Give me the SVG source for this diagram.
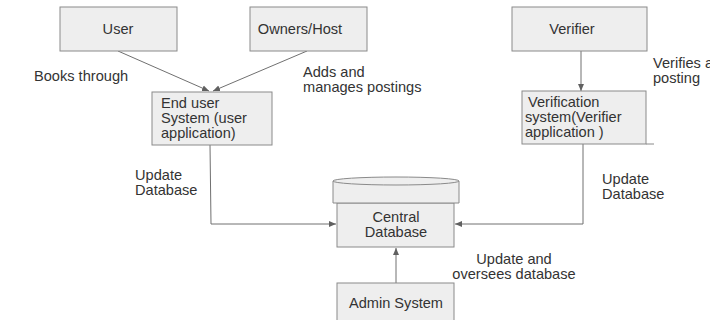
<svg xmlns="http://www.w3.org/2000/svg" width="710" height="320" viewBox="0 0 710 320">
<style>
.box{fill:#eeeeee;stroke:#8a8a8a;stroke-width:1}
.t{font-family:"Liberation Sans",Arial,sans-serif;font-size:14.6px;fill:#333333}
.c{text-anchor:middle}
.ln{fill:none;stroke:#707070;stroke-width:1}
</style>
<defs>
<marker id="ah" markerWidth="8" markerHeight="8" refX="7" refY="4" orient="auto" markerUnits="userSpaceOnUse">
<path d="M0,1 L7,4 L0,7 Z" fill="#606060"/>
</marker>
</defs>
<rect width="710" height="320" fill="#ffffff"/>
<g id="connectors">
<line class="ln" x1="118" y1="51" x2="209" y2="91" marker-end="url(#ah)"/>
<line class="ln" x1="307" y1="51" x2="213" y2="91" marker-end="url(#ah)"/>
<line class="ln" x1="581" y1="51" x2="581" y2="91" marker-end="url(#ah)"/>
<polyline class="ln" points="210,145 211,224 336,224" marker-end="url(#ah)"/>
<polyline class="ln" points="583,144 583,224 455,224" marker-end="url(#ah)"/>
<line class="ln" x1="396" y1="283" x2="396" y2="248" marker-end="url(#ah)"/>
</g>
<g id="user">
<rect class="box" x="60" y="7" width="117" height="44"/>
<text class="t c" x="118" y="34">User</text>
</g>
<g id="owners">
<rect class="box" x="250" y="7" width="117" height="44"/>
<text class="t c" x="300" y="34">Owners/Host</text>
</g>
<g id="verifier">
<rect class="box" x="512" y="7" width="135" height="44"/>
<text class="t c" x="572" y="34">Verifier</text>
</g>
<g id="enduser">
<rect class="box" x="152" y="92" width="120" height="53"/>
<text class="t" x="161" y="108">End user</text>
<text class="t" x="161" y="123">System (user</text>
<text class="t" x="161" y="138">application)</text>
</g>
<g id="verification">
<rect class="box" x="522" y="91" width="124" height="53"/>
<line x1="646" y1="144" x2="654" y2="144" stroke="#8a8a8a"/>
<text class="t" x="528" y="107"> Verification</text>
<text class="t" x="525" y="122">system(Verifier</text>
<text class="t" x="525" y="137">application )</text>
</g>
<g id="database">
<rect class="box" x="337" y="203" width="117" height="44"/>
<path class="box" d="M333,181 A63,4 0 0 1 459,181 L459,203 L333,203 Z"/>
<path d="M333,181 A63,4 0 0 0 459,181" fill="none" stroke="#8a8a8a"/>
<text class="t c" x="396" y="222">Central</text>
<text class="t c" x="396" y="237">Database</text>
</g>
<g id="admin">
<rect class="box" x="337" y="283" width="117" height="45"/>
<text class="t c" x="396" y="308">Admin System</text>
</g>
<g id="labels">
<text class="t" x="34" y="81">Books through</text>
<text class="t" x="303" y="77">Adds and</text>
<text class="t" x="303" y="92">manages postings</text>
<text class="t" x="653" y="68">Verifies a</text>
<text class="t" x="653" y="83">posting</text>
<text class="t" x="135" y="180">Update</text>
<text class="t" x="135" y="195">Database</text>
<text class="t" x="602" y="184">Update</text>
<text class="t" x="602" y="199">Database</text>
<text class="t c" x="514" y="264">Update and</text>
<text class="t c" x="514" y="279">oversees database</text>
</g>
</svg>
